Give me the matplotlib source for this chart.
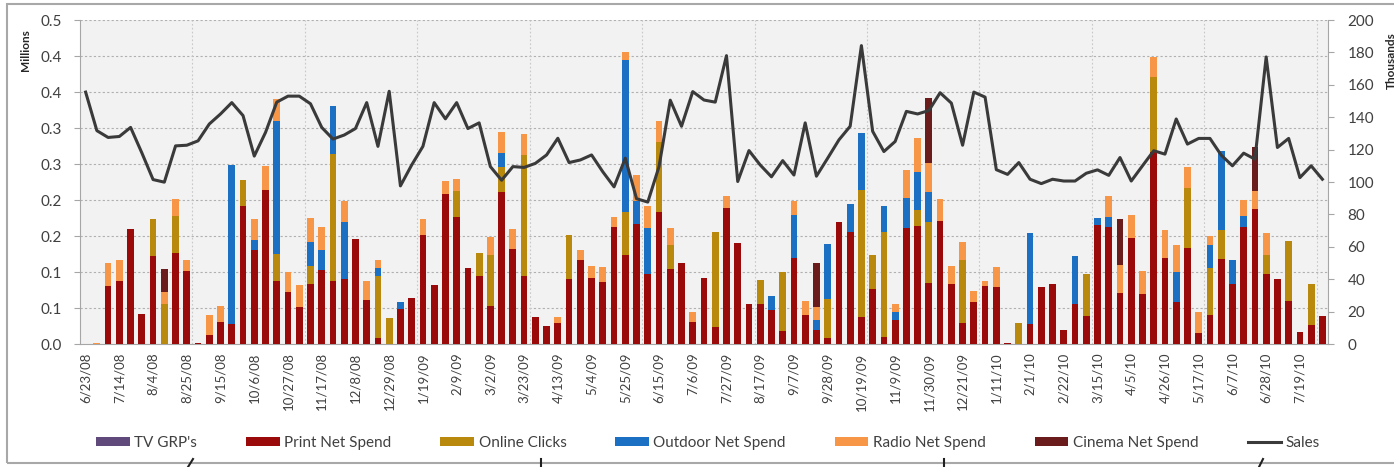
import numpy as np
import matplotlib.pyplot as plt
from matplotlib.lines import Line2D
from matplotlib.patches import Rectangle

plt.rcParams['font.family'] = ['Lato', 'DejaVu Sans']

# weekly media activity (left axis, millions) and sales (right axis, thousands)
# week 0 = 6/23/08, one entry per week through 8/2/10
print_spend = [
    0.000, 0.000, 0.081, 0.088, 0.160, 0.041, 0.122, 0.000, 0.127, 0.102,
    0.002, 0.013, 0.031, 0.028, 0.192, 0.131, 0.214, 0.088, 0.072, 0.052,
    0.084, 0.103, 0.088, 0.090, 0.146, 0.061, 0.009, 0.000, 0.048, 0.064,
    0.152, 0.082, 0.208, 0.177, 0.106, 0.094, 0.053, 0.211, 0.132, 0.094,
    0.038, 0.025, 0.029, 0.090, 0.116, 0.091, 0.086, 0.163, 0.123, 0.167,
    0.097, 0.184, 0.104, 0.112, 0.031, 0.092, 0.023, 0.189, 0.140, 0.056,
    0.056, 0.047, 0.018, 0.119, 0.040, 0.020, 0.009, 0.169, 0.155, 0.037,
    0.076, 0.010, 0.033, 0.161, 0.164, 0.085, 0.171, 0.083, 0.029, 0.059,
    0.081, 0.079, 0.002, 0.000, 0.028, 0.079, 0.083, 0.019, 0.056, 0.039,
    0.165, 0.163, 0.071, 0.147, 0.070, 0.267, 0.119, 0.059, 0.133, 0.015,
    0.040, 0.118, 0.083, 0.162, 0.187, 0.097, 0.090, 0.060, 0.016, 0.026,
    0.039,
]
online_clicks = [
    0.000, 0.000, 0.000, 0.000, 0.000, 0.000, 0.052, 0.056, 0.051, 0.000,
    0.000, 0.000, 0.000, 0.000, 0.036, 0.000, 0.000, 0.037, 0.000, 0.000,
    0.024, 0.000, 0.176, 0.000, 0.000, 0.000, 0.086, 0.036, 0.000, 0.000,
    0.000, 0.000, 0.000, 0.036, 0.000, 0.032, 0.071, 0.035, 0.000, 0.168,
    0.000, 0.000, 0.000, 0.061, 0.000, 0.000, 0.000, 0.000, 0.061, 0.000,
    0.000, 0.096, 0.033, 0.000, 0.000, 0.000, 0.133, 0.000, 0.000, 0.000,
    0.033, 0.000, 0.082, 0.000, 0.000, 0.000, 0.054, 0.000, 0.000, 0.177,
    0.048, 0.145, 0.000, 0.000, 0.022, 0.084, 0.000, 0.000, 0.088, 0.000,
    0.000, 0.000, 0.000, 0.029, 0.000, 0.000, 0.000, 0.000, 0.000, 0.058,
    0.000, 0.000, 0.000, 0.000, 0.000, 0.104, 0.000, 0.000, 0.083, 0.000,
    0.065, 0.041, 0.000, 0.000, 0.000, 0.027, 0.000, 0.083, 0.000, 0.057,
    0.000,
]
outdoor_spend = [
    0.000, 0.000, 0.000, 0.000, 0.000, 0.000, 0.000, 0.000, 0.000, 0.000,
    0.000, 0.000, 0.000, 0.221, 0.000, 0.014, 0.000, 0.185, 0.000, 0.000,
    0.034, 0.027, 0.067, 0.080, 0.000, 0.000, 0.011, 0.000, 0.011, 0.000,
    0.000, 0.000, 0.000, 0.000, 0.000, 0.000, 0.000, 0.019, 0.000, 0.000,
    0.000, 0.000, 0.000, 0.000, 0.000, 0.000, 0.000, 0.000, 0.210, 0.032,
    0.064, 0.000, 0.000, 0.000, 0.000, 0.000, 0.000, 0.000, 0.000, 0.000,
    0.000, 0.019, 0.000, 0.060, 0.000, 0.014, 0.076, 0.000, 0.039, 0.079,
    0.000, 0.036, 0.011, 0.042, 0.053, 0.042, 0.000, 0.000, 0.000, 0.000,
    0.000, 0.000, 0.000, 0.000, 0.126, 0.000, 0.000, 0.000, 0.066, 0.000,
    0.010, 0.013, 0.000, 0.000, 0.000, 0.000, 0.000, 0.041, 0.000, 0.000,
    0.033, 0.109, 0.034, 0.016, 0.000, 0.000, 0.000, 0.000, 0.000, 0.000,
    0.000,
]
radio_spend = [
    0.000, 0.002, 0.032, 0.028, 0.000, 0.000, 0.000, 0.016, 0.023, 0.015,
    0.000, 0.027, 0.022, 0.000, 0.000, 0.029, 0.033, 0.030, 0.028, 0.030,
    0.033, 0.032, 0.000, 0.028, 0.000, 0.027, 0.010, 0.000, 0.000, 0.000,
    0.022, 0.000, 0.018, 0.016, 0.000, 0.000, 0.025, 0.029, 0.028, 0.029,
    0.000, 0.000, 0.008, 0.000, 0.014, 0.017, 0.021, 0.014, 0.012, 0.036,
    0.030, 0.030, 0.024, 0.000, 0.014, 0.000, 0.000, 0.016, 0.000, 0.000,
    0.000, 0.000, 0.000, 0.019, 0.020, 0.018, 0.000, 0.000, 0.000, 0.000,
    0.000, 0.000, 0.012, 0.038, 0.047, 0.040, 0.031, 0.025, 0.024, 0.014,
    0.006, 0.028, 0.000, 0.000, 0.000, 0.000, 0.000, 0.000, 0.000, 0.000,
    0.000, 0.030, 0.039, 0.032, 0.032, 0.028, 0.039, 0.037, 0.030, 0.029,
    0.012, 0.000, 0.000, 0.022, 0.026, 0.030, 0.000, 0.000, 0.000, 0.000,
    0.000,
]
cinema_spend = [
    0.000, 0.000, 0.000, 0.000, 0.000, 0.000, 0.000, 0.032, 0.000, 0.000,
    0.000, 0.000, 0.000, 0.000, 0.000, 0.000, 0.000, 0.000, 0.000, 0.000,
    0.000, 0.000, 0.000, 0.000, 0.000, 0.000, 0.000, 0.000, 0.000, 0.000,
    0.000, 0.000, 0.000, 0.000, 0.000, 0.000, 0.000, 0.000, 0.000, 0.000,
    0.000, 0.000, 0.000, 0.000, 0.000, 0.000, 0.000, 0.000, 0.000, 0.000,
    0.000, 0.000, 0.000, 0.000, 0.000, 0.000, 0.000, 0.000, 0.000, 0.000,
    0.000, 0.000, 0.000, 0.000, 0.000, 0.060, 0.000, 0.000, 0.000, 0.000,
    0.000, 0.000, 0.000, 0.000, 0.000, 0.090, 0.000, 0.000, 0.000, 0.000,
    0.000, 0.000, 0.000, 0.000, 0.000, 0.000, 0.000, 0.000, 0.000, 0.000,
    0.000, 0.000, 0.063, 0.000, 0.000, 0.000, 0.000, 0.000, 0.000, 0.000,
    0.000, 0.000, 0.000, 0.000, 0.061, 0.000, 0.000, 0.000, 0.000, 0.000,
    0.000,
]
# TV GRP's carry no volume in this period
tv_grps = np.zeros(len(print_spend))

sales = [
    155.5, 131.7, 127.5, 128.1, 133.7, 118.0, 101.5, 99.9, 122.3, 122.7,
    125.4, 135.8, 142.0, 149.0, 141.0, 116.0, 130.6, 149.3, 153.0, 153.0,
    148.3, 133.7, 126.5, 129.0, 133.0, 149.0, 122.0, 156.0, 97.6, 110.5,
    122.0, 149.0, 139.0, 149.0, 133.0, 136.5, 109.5, 101.1, 109.5, 109.0,
    111.5, 116.7, 127.0, 112.0, 113.6, 116.7, 106.3, 97.0, 114.7, 89.7,
    87.6, 109.5, 150.5, 134.4, 155.8, 150.6, 149.3, 178.0, 100.3, 119.4,
    110.5, 103.2, 113.2, 104.3, 136.5, 103.6, 114.7, 126.0, 134.4, 184.2,
    131.3, 118.8, 125.0, 143.6, 142.0, 144.1, 155.1, 148.7, 122.7, 155.5,
    152.4, 107.6, 104.7, 112.0, 101.7, 99.0, 101.7, 100.6, 100.6, 105.4,
    107.5, 104.1, 115.1, 100.6, 110.0, 119.3, 117.2, 138.9, 123.4, 126.9,
    126.9, 116.6, 110.0, 117.8, 114.1, 177.2, 121.3, 126.9, 102.7, 110.0,
    101.7,
]

week_labels = [
    '6/23/08', '7/14/08', '8/4/08', '8/25/08', '9/15/08', '10/6/08', '10/27/08',
    '11/17/08', '12/8/08', '12/29/08', '1/19/09', '2/9/09', '3/2/09', '3/23/09',
    '4/13/09', '5/4/09', '5/25/09', '6/15/09', '7/6/09', '7/27/09', '8/17/09',
    '9/7/09', '9/28/09', '10/19/09', '11/9/09', '11/30/09', '12/21/09',
    '1/11/10', '2/1/10', '2/22/10', '3/15/10', '4/5/10', '4/26/10', '5/17/10',
    '6/7/10', '6/28/10', '7/19/10',
]
left_ticks = [0.00, 0.05, 0.10, 0.15, 0.20, 0.25, 0.30, 0.35, 0.40, 0.45]
left_tick_labels = ['0.0', '0.1', '0.1', '0.2', '0.2', '0.3', '0.3', '0.4', '0.4', '0.5']
right_ticks = [0, 20, 40, 60, 80, 100, 120, 140, 160, 180, 200]

series = [
    ("TV GRP's", tv_grps, '#604A7B'),
    ('Print Net Spend', print_spend, '#9A0A0A'),
    ('Online Clicks', online_clicks, '#B8890C'),
    ('Outdoor Net Spend', outdoor_spend, '#1C70C4'),
    ('Radio Net Spend', radio_spend, '#F79646'),
    ('Cinema Net Spend', cinema_spend, '#6A1C1C'),
]

W, H = 1394, 467
fig = plt.figure(figsize=(W / 100, H / 100), dpi=100)
ax = fig.add_axes([80 / W, 1 - 344 / H, (1328 - 80) / W, (344 - 20) / H])
ax.set_facecolor('#F2F2F2')

n = len(print_spend)
x = np.arange(n)
bottom = np.zeros(n)
handles = []
for name, vals, color in series:
    vals = np.asarray(vals, dtype=float)
    bars = ax.bar(x, vals, 0.6, bottom=bottom, color=color, linewidth=0, label=name, zorder=3)
    handles.append(bars)
    bottom += vals

ax.set_xlim(-0.5, n - 0.5)
ax.set_ylim(0, 0.45)
ax.set_yticks(left_ticks)
ax.set_yticklabels(left_tick_labels)
ax.set_xticks(np.arange(0, n, 3))
ax.set_xticklabels(week_labels, rotation=90, ha='center', va='top')

grid_kw = dict(color='#B0B0B0', linestyle=(0, (2, 2)), linewidth=0.8, zorder=1)
for t in left_ticks[1:]:
    ax.axhline(t, **grid_kw)
for k in range(10, n, 10):
    ax.axvline(k - 0.5, color='#C8C8C8', linestyle=(0, (1.5, 2)), linewidth=0.8, zorder=1)

for side in ('top', 'right'):
    ax.spines[side].set_visible(False)
for side in ('left', 'bottom'):
    ax.spines[side].set_color('#A6A6A6')
ax.tick_params(axis='x', length=0, pad=6, labelsize=9.5, labelcolor='#404040')
ax.tick_params(axis='y', length=4, width=0.8, color='#A6A6A6', pad=9,
               labelsize=11, labelcolor='#404040')

ax2 = ax.twinx()
line, = ax2.plot(x, sales, color='#3A3A3A', linewidth=2.2, solid_joinstyle='round',
                 label='Sales', zorder=4)
ax2.set_ylim(0, 200)
ax2.set_yticks(right_ticks)
for side in ('top', 'left', 'bottom'):
    ax2.spines[side].set_visible(False)
ax2.spines['right'].set_color('#A6A6A6')
ax2.tick_params(axis='y', length=4, width=0.8, color='#A6A6A6', pad=10,
                labelsize=11, labelcolor='#404040')

fig.text(25 / W, 1 - 50 / H, 'Millions', rotation=90, ha='center', va='center',
         fontsize=8.5, fontweight='bold', color='#262626')
fig.text(1391 / W, 1 - 61 / H, 'Thousands', rotation=90, ha='center', va='center',
         fontsize=8.5, fontweight='bold', color='#262626')

handles.append(line)
fig.legend(handles, [h.get_label() for h in handles], loc='center',
           bbox_to_anchor=(708 / W, 1 - 443 / H), ncol=7, frameon=False,
           fontsize=11, handlelength=2.2, handleheight=0.45, handletextpad=0.3,
           columnspacing=3.2, labelcolor='#404040')

# chart frame
fig.add_artist(Rectangle((7 / W, 1 - 463 / H), 1.0, (463 - 4) / H,
                         transform=fig.transFigure, fill=False,
                         edgecolor='#A8A8A8', linewidth=1.5))
# connector stubs under the frame
for x0, x1 in [(188, 193), (541, 541), (944, 944), (1259, 1263)]:
    fig.add_artist(Line2D([x0 / W, x1 / W], [1 - 467 / H, 1 - 459 / H],
                          transform=fig.transFigure, color='#202020', linewidth=1.5))

fig.savefig('out.png', dpi=100)
